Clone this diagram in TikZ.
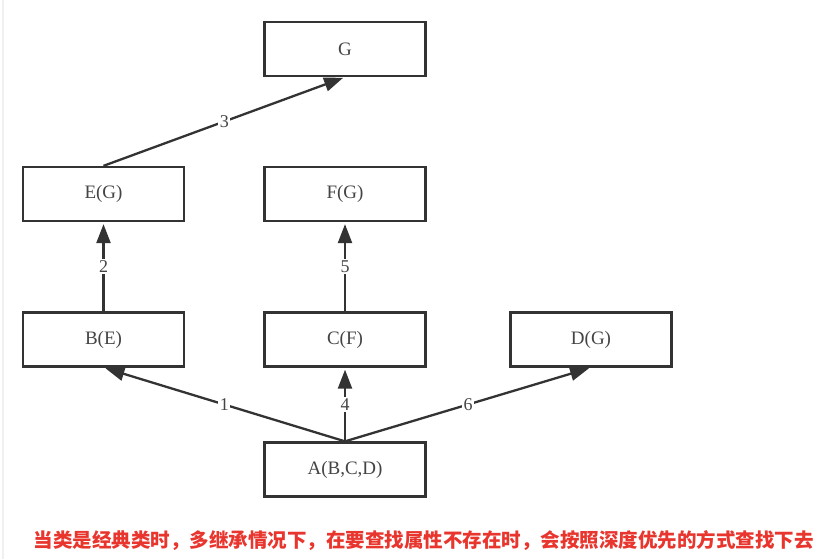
\documentclass[tikz,border=0pt]{standalone}
\usepackage{fontspec}
\setmainfont{Liberation Serif}
\newfontfamily\cjkfont{Noto Sans CJK SC}
\usetikzlibrary{arrows.meta, positioning}
\definecolor{boxgray}{HTML}{333333}
\definecolor{textgray}{HTML}{444444}
\definecolor{notered}{HTML}{E8352E}

\begin{document}
\begin{tikzpicture}[x=1pt, y=-1pt,
    lop/.style={draw=boxgray, line width=2.3pt, minimum width=161pt, minimum height=54pt, inner sep=0pt, text=textgray, font=\fontsize{19}{22}\selectfont},
    ke/.style={draw=boxgray, line width=2.3pt, -{Triangle[length=19pt,width=14pt]}, shorten >=2pt},
    so/.style={fill=white, inner sep=1.5pt, text=textgray, font=\fontsize{18}{20}\selectfont}]

        \useasboundingbox (0,0) rectangle (829,559);
        \draw[gray!12, line width=2pt] (3,0) -- (3,559); % vien trai

        % Cac lop
        \node[lop] (G) at (345,49) {G};
        \node[lop] (E) at (103.5,194) {E(G)};
        \node[lop] (F) at (345,194) {F(G)};
        \node[lop] (B) at (103.5,339.5) {B(E)};
        \node[lop] (C) at (345,339.5) {C(F)};
        \node[lop] (D) at (591,339.5) {D(G)};
        \node[lop] (A) at (345,469.5) {A(B,C,D)};

        % Thu tu tim kiem
        \draw[ke] (A.north) -- node[so] {1} (B.south);
        \draw[ke] (B.north) -- node[so] {2} (E.south);
        \draw[ke] (E.north) -- node[so] {3} (G.south);
        \draw[ke] (A.north) -- node[so] {4} (C.south);
        \draw[ke] (C.north) -- node[so] {5} (F.south);
        \draw[ke] (A.north) -- node[so] {6} (D.south);

        % Chu thich
        \node[text=notered, font=\cjkfont\bfseries\fontsize{19.5}{22}\selectfont] (note) at (423.5,541) {当类是经典类时，多继承情况下，在要查找属性不存在时，会按照深度优先的方式查找下去};

\end{tikzpicture}
\end{document}
